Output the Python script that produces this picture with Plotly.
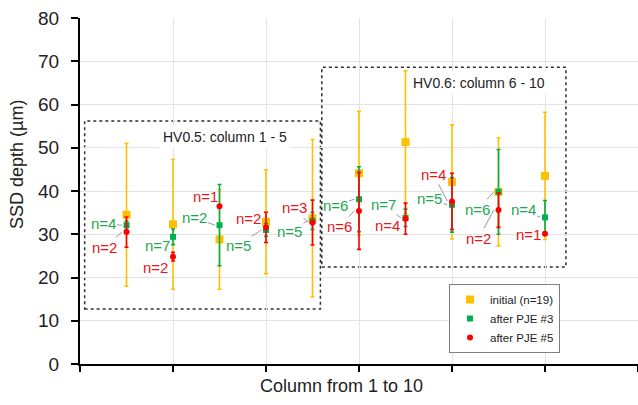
import plotly.graph_objects as go

# ---------------- data ----------------
columns = [1, 2, 3, 4, 5, 6, 7, 8, 9, 10]

initial_mean = [34.5, 32.3, 28.8, 32.9, 33.7, 44.1, 51.3, 42.1, 39.8, 43.5]
initial_err = [16.5, 15.0, 11.5, 12.0, 18.2, 14.3, 16.5, 13.2, 12.5, 14.7]

pje3_mean = [32.1, 29.4, 32.1, 31.0, 33.1, 38.1, 33.8, 36.8, 39.8, 33.9]
pje3_err = [1.0, 1.8, 9.4, 1.5, 2.0, 7.5, 2.0, 6.3, 9.8, 3.9]
pje3_n = [4, 7, 2, 5, 5, 6, 7, 5, 6, 4]

pje5_mean = [30.5, 24.8, 36.5, 31.6, 32.7, 35.4, 33.6, 37.6, 35.6, 30.1]
pje5_err = [3.5, 1.0, 0.0, 3.5, 5.2, 8.9, 3.6, 6.5, 4.0, 0.0]
pje5_n = [2, 2, 1, 2, 3, 6, 4, 4, 2, 1]

series_names = ["initial (n=19)", "after PJE #3", "after PJE #5"]
group_titles = ["HV0.5: column 1 - 5", "HV0.6: column 6 - 10"]
x_title = "Column from 1 to 10"
y_title = "SSD depth (µm)"

# ---------------- layout helpers (positions / styles) ----------------
label3_pos = [(0.495, 32.4), (1.656, 27.3), (2.452, 33.9), (3.398, 27.35), (4.505, 30.75),
              (5.484, 36.6), (6.527, 36.9), (7.516, 38.3), (8.559, 35.8), (9.527, 35.8)]
label5_pos = [(0.527, 27.05), (1.634, 22.4), (2.699, 38.7), (3.634, 33.7), (4.613, 36.1),
              (5.581, 31.75), (6.613, 32.1), (7.602, 43.9), (8.570, 29.06), (9.645, 29.9)]
group_boxes = [(0.1, 12.7, 5.17, 56.2), (5.2, 22.4, 10.45, 68.6)]
group_title_pos = [(3.12, 52.55), (8.57, 64.9)]

YELLOW = "#FFC000"
GREEN = "#00B050"
RED = "#FF0000"
GREEN_TXT = "#1DA84F"
RED_TXT = "#E8141B"
FONT = "Liberation Sans, Arial, sans-serif"

fig = go.Figure()

fig.add_trace(go.Scatter(
    x=columns, y=initial_mean, mode="markers", name=series_names[0],
    marker=dict(symbol="square", size=8, color=YELLOW),
    error_y=dict(type="data", array=initial_err, visible=True, color=YELLOW, thickness=1.6, width=2),
))
fig.add_trace(go.Scatter(
    x=columns, y=pje3_mean, mode="markers", name=series_names[1],
    marker=dict(symbol="square", size=6, color=GREEN),
    error_y=dict(type="data", array=pje3_err, visible=True, color=GREEN, thickness=1.6, width=2),
))
fig.add_trace(go.Scatter(
    x=columns, y=pje5_mean, mode="markers", name=series_names[2],
    marker=dict(symbol="circle", size=6, color=RED),
    error_y=dict(type="data", array=pje5_err, visible=True, color=RED, thickness=1.6, width=2),
))

annotations = []
for i, c in enumerate(columns):
    for pos, n, mean, col in ((label3_pos[i], pje3_n[i], pje3_mean[i], GREEN_TXT),
                              (label5_pos[i], pje5_n[i], pje5_mean[i], RED_TXT)):
        annotations.append(dict(
            x=c - 0.1, y=mean, xref="x", yref="y",
            ax=pos[0], ay=pos[1], axref="x", ayref="y",
            text=f"n={n}", showarrow=True, arrowhead=0, arrowwidth=1,
            arrowcolor="#9a9a9a", standoff=0,
            font=dict(family=FONT, size=15, color=col),
        ))

for (x0, y0, x1, y1) in group_boxes:
    fig.add_shape(type="rect", x0=x0, y0=y0, x1=x1, y1=y1, xref="x", yref="y",
                  line=dict(color="#303030", width=1.5, dash="dot"), layer="below")

for t, (tx, ty) in zip(group_titles, group_title_pos):
    annotations.append(dict(x=tx, y=ty, xref="x", yref="y", text=t, showarrow=False,
                            bgcolor="white", borderpad=3,
                            font=dict(family=FONT, size=14, color="#222222")))

annotations.append(dict(x=(341 - 80) / 558, y=(364 - 386) / 346, xref="paper", yref="paper",
                        text=x_title, showarrow=False, yanchor="middle", xanchor="center",
                        font=dict(family=FONT, size=18, color="#222222")))
annotations.append(dict(x=(17 - 80) / 558, y=(364 - 165) / 346, xref="paper", yref="paper",
                        text=y_title, showarrow=False, textangle=-90, yanchor="middle",
                        xanchor="center", font=dict(family=FONT, size=18, color="#222222")))

fig.update_layout(
    width=638, height=405,
    margin=dict(l=80, r=0, t=18, b=41),
    plot_bgcolor="white", paper_bgcolor="white",
    font=dict(family=FONT, color="#222222"),
    showlegend=True,
    legend=dict(x=(449 - 80) / 558, y=(364 - 284) / 346, xanchor="left", yanchor="top",
                bgcolor="white", bordercolor="#808080", borderwidth=1,
                font=dict(family=FONT, size=11.5, color="#222222"), itemwidth=30,
                tracegroupgap=0),
    annotations=annotations,
    xaxis=dict(range=[0, 12], tickvals=[0, 2, 4, 6, 8, 10, 12], showticklabels=False,
               ticks="outside", ticklen=6, tickwidth=2, tickcolor="black",
               showline=True, linecolor="black", linewidth=2,
               showgrid=True, gridcolor="#e3e3e3", gridwidth=1, zeroline=False),
    yaxis=dict(range=[0, 80], dtick=10, ticks="outside", ticklen=7, tickwidth=2,
               tickcolor="black", showline=True, linecolor="black", linewidth=2,
               showgrid=True, gridcolor="#e3e3e3", gridwidth=1, zeroline=False,
               tickfont=dict(family=FONT, size=19, color="#222222"),
               ticklabelstandoff=8),
)

fig.write_html("out.html")
